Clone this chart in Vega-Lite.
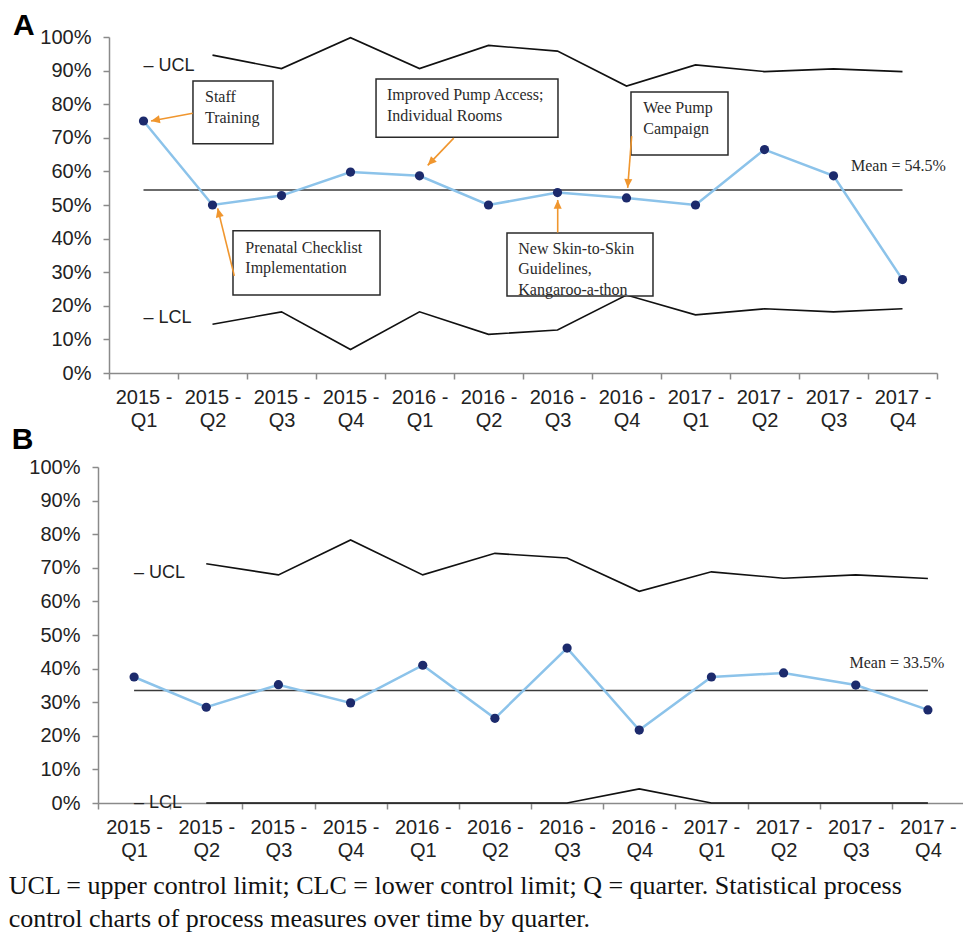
{
  "$schema": "https://vega.github.io/schema/vega-lite/v6.json",
  "background": "white",
  "padding": {"left": 8, "top": 10, "right": 0, "bottom": 0},
  "config": {
    "view": {"stroke": null},
    "font": "Liberation Sans",
    "axis": {"grid": false, "labelFont": "Liberation Sans", "labelFontSize": 20, "labelColor": "#222222", "domainColor": "#8a8a8a", "tickColor": "#8a8a8a", "domainWidth": 1.5, "tickWidth": 1.5, "tickSize": 6}
  },
  "title": {
    "text": ["UCL = upper control limit; CLC = lower control limit; Q = quarter.  Statistical process", "control charts of process measures over time by quarter."],
    "orient": "bottom", "anchor": "start", "frame": "bounds",
    "font": "Liberation Serif", "fontSize": 26, "fontWeight": "normal", "lineHeight": 33, "color": "#111111", "offset": 13, "dx": -3
  },
  "datasets": {
    "a": [
      {"q": "2015 - Q1", "v": 75.0, "ucl": null, "lcl": null},
      {"q": "2015 - Q2", "v": 50.0, "ucl": 94.6, "lcl": 14.5},
      {"q": "2015 - Q3", "v": 52.8, "ucl": 90.6, "lcl": 18.2},
      {"q": "2015 - Q4", "v": 59.8, "ucl": 99.8, "lcl": 7.0},
      {"q": "2016 - Q1", "v": 58.7, "ucl": 90.6, "lcl": 18.2},
      {"q": "2016 - Q2", "v": 50.0, "ucl": 97.5, "lcl": 11.5},
      {"q": "2016 - Q3", "v": 53.7, "ucl": 95.8, "lcl": 12.8},
      {"q": "2016 - Q4", "v": 52.1, "ucl": 85.4, "lcl": 23.2},
      {"q": "2017 - Q1", "v": 50.0, "ucl": 91.7, "lcl": 17.3},
      {"q": "2017 - Q2", "v": 66.5, "ucl": 89.7, "lcl": 19.1},
      {"q": "2017 - Q3", "v": 58.7, "ucl": 90.5, "lcl": 18.2},
      {"q": "2017 - Q4", "v": 27.8, "ucl": 89.7, "lcl": 19.1}
    ],
    "b": [
      {"q": "2015 - Q1", "v": 37.5, "ucl": null, "lcl": null},
      {"q": "2015 - Q2", "v": 28.5, "ucl": 71.2, "lcl": 0},
      {"q": "2015 - Q3", "v": 35.2, "ucl": 67.9, "lcl": 0},
      {"q": "2015 - Q4", "v": 29.8, "ucl": 78.3, "lcl": 0},
      {"q": "2016 - Q1", "v": 41.0, "ucl": 67.9, "lcl": 0},
      {"q": "2016 - Q2", "v": 25.2, "ucl": 74.3, "lcl": 0},
      {"q": "2016 - Q3", "v": 46.1, "ucl": 72.9, "lcl": 0},
      {"q": "2016 - Q4", "v": 21.7, "ucl": 63.0, "lcl": 4.2},
      {"q": "2017 - Q1", "v": 37.5, "ucl": 68.8, "lcl": 0},
      {"q": "2017 - Q2", "v": 38.7, "ucl": 66.9, "lcl": 0},
      {"q": "2017 - Q3", "v": 35.1, "ucl": 67.9, "lcl": 0},
      {"q": "2017 - Q4", "v": 27.7, "ucl": 66.8, "lcl": 0}
    ],
    "limA": [
      {"q": "2015 - Q1", "v": 91.4, "t": "– UCL"},
      {"q": "2015 - Q1", "v": 16.5, "t": "– LCL"}
    ],
    "limB": [
      {"q": "2015 - Q1", "v": 68.6, "t": "– UCL"},
      {"q": "2015 - Q1", "v": 0, "t": "– LCL"}
    ],
    "boxesA": [
      {"id": "staff", "x": 1.217, "x2": 2.377, "y": 86.9, "y2": 68.2},
      {"id": "improved", "x": 3.870, "x2": 6.507, "y": 87.5, "y2": 70.2},
      {"id": "wee", "x": 7.565, "x2": 8.971, "y": 83.6, "y2": 64.9},
      {"id": "prenatal", "x": 1.797, "x2": 3.928, "y": 42.3, "y2": 23.2},
      {"id": "skin", "x": 5.768, "x2": 7.884, "y": 41.7, "y2": 22.9}
    ],
    "textA": [
      {"x": 1.391, "y": 80.65, "t": "Staff\nTraining"},
      {"x": 4.029, "y": 81.2, "t": "Improved Pump Access;\nIndividual Rooms"},
      {"x": 7.743, "y": 77.3, "t": "Wee Pump\nCampaign"},
      {"x": 1.976, "y": 35.8, "t": "Prenatal Checklist\nImplementation"},
      {"x": 5.932, "y": 35.5, "t": "New Skin-to-Skin\nGuidelines,\nKangaroo-a-thon"},
      {"x": 10.754, "y": 60.1, "t": "Mean = 54.5%"}
    ],
    "letterA": [{"x": -1.391, "y": 100.6, "t": "A"}],
    "letterB": [{"x": -1.194, "y": 105.4, "t": "B"}],
    "arrowsA": [
      {"id": "staff", "x": 1.213, "y": 77.3, "x2": 0.609, "y2": 75.0},
      {"id": "prenatal", "x": 1.816, "y": 28.9, "x2": 1.575, "y2": 49.0},
      {"id": "improved", "x": 4.996, "y": 69.9, "x2": 4.619, "y2": 61.8},
      {"id": "skin", "x": 6.503, "y": 41.8, "x2": 6.503, "y2": 51.5},
      {"id": "wee", "x": 7.575, "y": 70.5, "x2": 7.517, "y2": 55.1}
    ],
    "textB": [
      {"x": 10.414, "y": 40.2, "t": "Mean = 33.5%"}
    ]
  },
  "vconcat": [
    {
      "width": 839,
      "height": 336,
      "resolve": {"scale": {"x": "independent"}},
      "layer": [
        {
          "layer": [
            {
              "data": {"name": "a"},
              "mark": {"type": "line", "color": "#3a3a3a", "strokeWidth": 1.5},
              "encoding": {
                "x": {"field": "q", "type": "nominal", "title": null, "scale": {"type": "band", "paddingInner": 0, "paddingOuter": 0, "range": [11, 839]},
                  "axis": {"tickBand": "extent", "labelAngle": 0, "labelExpr": "[substring(datum.label, 0, 6), substring(datum.label, 7)]", "labelLineHeight": 23, "labelPadding": 8, "labelBaseline": "top"}},
                "y": {"datum": 54.5, "type": "quantitative", "title": null}
              }
            },
            {
              "data": {"name": "a"},
              "mark": {"type": "line", "color": "#111111", "strokeWidth": 1.6},
              "encoding": {
                "x": {"field": "q", "type": "nominal", "title": null},
                "y": {"field": "ucl", "type": "quantitative", "title": null}
              }
            },
            {
              "data": {"name": "a"},
              "mark": {"type": "line", "color": "#111111", "strokeWidth": 1.6},
              "encoding": {
                "x": {"field": "q", "type": "nominal", "title": null},
                "y": {"field": "lcl", "type": "quantitative", "title": null}
              }
            },
            {
              "data": {"name": "a"},
              "mark": {"type": "line", "color": "#8cc3ea", "strokeWidth": 2.5},
              "encoding": {
                "x": {"field": "q", "type": "nominal", "title": null},
                "y": {"field": "v", "type": "quantitative", "title": null, "scale": {"domain": [0, 100], "nice": false},
                  "axis": {"values": [0, 10, 20, 30, 40, 50, 60, 70, 80, 90, 100], "tickCount": 11, "labelExpr": "datum.value + '%'", "labelPadding": 12, "labelOverlap": false, "offset": -11}}
              }
            },
            {
              "data": {"name": "a"},
              "mark": {"type": "point", "filled": true, "color": "#1c2a6c", "size": 85, "opacity": 1},
              "encoding": {
                "x": {"field": "q", "type": "nominal", "title": null},
                "y": {"field": "v", "type": "quantitative", "title": null}
              }
            },
            {
              "data": {"name": "limA"},
              "mark": {"type": "text", "align": "left", "baseline": "middle", "font": "Liberation Sans", "fontSize": 18, "color": "#222222"},
              "encoding": {
                "x": {"field": "q", "type": "nominal", "title": null},
                "y": {"field": "v", "type": "quantitative", "title": null},
                "text": {"field": "t"}
              }
            }
          ]
        },
        {
          "layer": [
            {
              "data": {"name": "boxesA"},
              "mark": {"type": "rect", "fill": "white", "stroke": "#2a2a2a", "strokeWidth": 1.5},
              "encoding": {
                "x": {"field": "x", "type": "quantitative", "scale": {"domain": [0, 12], "range": [11, 839]}, "axis": null},
                "x2": {"field": "x2"},
                "y": {"field": "y", "type": "quantitative", "title": null},
                "y2": {"field": "y2"}
              }
            },
            {
              "data": {"name": "textA"},
              "mark": {"type": "text", "align": "left", "baseline": "alphabetic", "font": "Liberation Serif", "fontSize": 16, "lineHeight": 20.5, "lineBreak": "\n", "color": "#2a2a2a"},
              "encoding": {
                "x": {"field": "x", "type": "quantitative", "scale": {"domain": [0, 12], "range": [11, 839]}, "axis": null},
                "y": {"field": "y", "type": "quantitative", "title": null},
                "text": {"field": "t"}
              }
            },
            {
              "data": {"name": "letterA"},
              "mark": {"type": "text", "align": "left", "baseline": "alphabetic", "font": "Liberation Sans", "fontSize": 30, "fontWeight": "bold", "color": "#000000"},
              "encoding": {
                "x": {"field": "x", "type": "quantitative", "scale": {"domain": [0, 12], "range": [11, 839]}, "axis": null},
                "y": {"field": "y", "type": "quantitative", "title": null},
                "text": {"field": "t"}
              }
            },
            {
              "data": {"name": "arrowsA"},
              "mark": {"type": "rule", "color": "#f0962e", "strokeWidth": 1.6},
              "encoding": {
                "x": {"field": "x", "type": "quantitative", "scale": {"domain": [0, 12], "range": [11, 839]}, "axis": null},
                "x2": {"field": "x2"},
                "y": {"field": "y", "type": "quantitative", "title": null},
                "y2": {"field": "y2"}
              }
            },
            {
              "data": {"name": "arrowsA"},
              "transform": [{"filter": "datum.id == 'staff'"}],
              "mark": {"type": "point", "shape": "M0,0L-0.5,1.1L0.5,1.1Z", "angle": 259, "filled": true, "color": "#f0962e", "size": 260, "opacity": 1},
              "encoding": {
                "x": {"field": "x2", "type": "quantitative", "scale": {"domain": [0, 12], "range": [11, 839]}, "axis": null},
                "y": {"field": "y2", "type": "quantitative", "title": null}
              }
            },
            {
              "data": {"name": "arrowsA"},
              "transform": [{"filter": "datum.id == 'prenatal'"}],
              "mark": {"type": "point", "shape": "M0,0L-0.5,1.1L0.5,1.1Z", "angle": 346, "filled": true, "color": "#f0962e", "size": 260, "opacity": 1},
              "encoding": {
                "x": {"field": "x2", "type": "quantitative", "scale": {"domain": [0, 12], "range": [11, 839]}, "axis": null},
                "y": {"field": "y2", "type": "quantitative", "title": null}
              }
            },
            {
              "data": {"name": "arrowsA"},
              "transform": [{"filter": "datum.id == 'improved'"}],
              "mark": {"type": "point", "shape": "M0,0L-0.5,1.1L0.5,1.1Z", "angle": 224, "filled": true, "color": "#f0962e", "size": 260, "opacity": 1},
              "encoding": {
                "x": {"field": "x2", "type": "quantitative", "scale": {"domain": [0, 12], "range": [11, 839]}, "axis": null},
                "y": {"field": "y2", "type": "quantitative", "title": null}
              }
            },
            {
              "data": {"name": "arrowsA"},
              "transform": [{"filter": "datum.id == 'skin'"}],
              "mark": {"type": "point", "shape": "M0,0L-0.5,1.1L0.5,1.1Z", "angle": 0, "filled": true, "color": "#f0962e", "size": 260, "opacity": 1},
              "encoding": {
                "x": {"field": "x2", "type": "quantitative", "scale": {"domain": [0, 12], "range": [11, 839]}, "axis": null},
                "y": {"field": "y2", "type": "quantitative", "title": null}
              }
            },
            {
              "data": {"name": "arrowsA"},
              "transform": [{"filter": "datum.id == 'wee'"}],
              "mark": {"type": "point", "shape": "M0,0L-0.5,1.1L0.5,1.1Z", "angle": 184, "filled": true, "color": "#f0962e", "size": 260, "opacity": 1},
              "encoding": {
                "x": {"field": "x2", "type": "quantitative", "scale": {"domain": [0, 12], "range": [11, 839]}, "axis": null},
                "y": {"field": "y2", "type": "quantitative", "title": null}
              }
            }
          ]
        }
      ]
    },
    {
      "width": 866,
      "height": 336,
      "resolve": {"scale": {"x": "independent"}},
      "layer": [
        {
          "layer": [
            {
              "data": {"name": "b"},
              "mark": {"type": "line", "color": "#3a3a3a", "strokeWidth": 1.5},
              "encoding": {
                "x": {"field": "q", "type": "nominal", "title": null, "scale": {"type": "band", "paddingInner": 0, "paddingOuter": 0},
                  "axis": {"tickBand": "extent", "labelAngle": 0, "labelExpr": "[substring(datum.label, 0, 6), substring(datum.label, 7)]", "labelLineHeight": 23, "labelPadding": 8, "labelBaseline": "top"}},
                "y": {"datum": 33.5, "type": "quantitative", "title": null}
              }
            },
            {
              "data": {"name": "b"},
              "mark": {"type": "line", "color": "#111111", "strokeWidth": 1.6},
              "encoding": {
                "x": {"field": "q", "type": "nominal", "title": null},
                "y": {"field": "ucl", "type": "quantitative", "title": null}
              }
            },
            {
              "data": {"name": "b"},
              "mark": {"type": "line", "color": "#111111", "strokeWidth": 1.6},
              "encoding": {
                "x": {"field": "q", "type": "nominal", "title": null},
                "y": {"field": "lcl", "type": "quantitative", "title": null}
              }
            },
            {
              "data": {"name": "b"},
              "mark": {"type": "line", "color": "#8cc3ea", "strokeWidth": 2.5},
              "encoding": {
                "x": {"field": "q", "type": "nominal", "title": null},
                "y": {"field": "v", "type": "quantitative", "title": null, "scale": {"domain": [0, 100], "nice": false},
                  "axis": {"values": [0, 10, 20, 30, 40, 50, 60, 70, 80, 90, 100], "tickCount": 11, "labelExpr": "datum.value + '%'", "labelPadding": 12, "labelOverlap": false}}
              }
            },
            {
              "data": {"name": "b"},
              "mark": {"type": "point", "filled": true, "color": "#1c2a6c", "size": 85, "opacity": 1},
              "encoding": {
                "x": {"field": "q", "type": "nominal", "title": null},
                "y": {"field": "v", "type": "quantitative", "title": null}
              }
            },
            {
              "data": {"name": "limB"},
              "mark": {"type": "text", "align": "left", "baseline": "middle", "font": "Liberation Sans", "fontSize": 18, "color": "#222222"},
              "encoding": {
                "x": {"field": "q", "type": "nominal", "title": null},
                "y": {"field": "v", "type": "quantitative", "title": null},
                "text": {"field": "t"}
              }
            }
          ]
        },
        {
          "layer": [
            {
              "data": {"name": "textB"},
              "mark": {"type": "text", "align": "left", "baseline": "alphabetic", "font": "Liberation Serif", "fontSize": 16, "color": "#2a2a2a"},
              "encoding": {
                "x": {"field": "x", "type": "quantitative", "scale": {"domain": [0, 12]}, "axis": null},
                "y": {"field": "y", "type": "quantitative", "title": null},
                "text": {"field": "t"}
              }
            },
            {
              "data": {"name": "letterB"},
              "mark": {"type": "text", "align": "left", "baseline": "alphabetic", "font": "Liberation Sans", "fontSize": 30, "fontWeight": "bold", "color": "#000000"},
              "encoding": {
                "x": {"field": "x", "type": "quantitative", "scale": {"domain": [0, 12]}, "axis": null},
                "y": {"field": "y", "type": "quantitative", "title": null},
                "text": {"field": "t"}
              }
            }
          ]
        }
      ]
    }
  ],
  "bounds": "flush",
  "spacing": 94
}
